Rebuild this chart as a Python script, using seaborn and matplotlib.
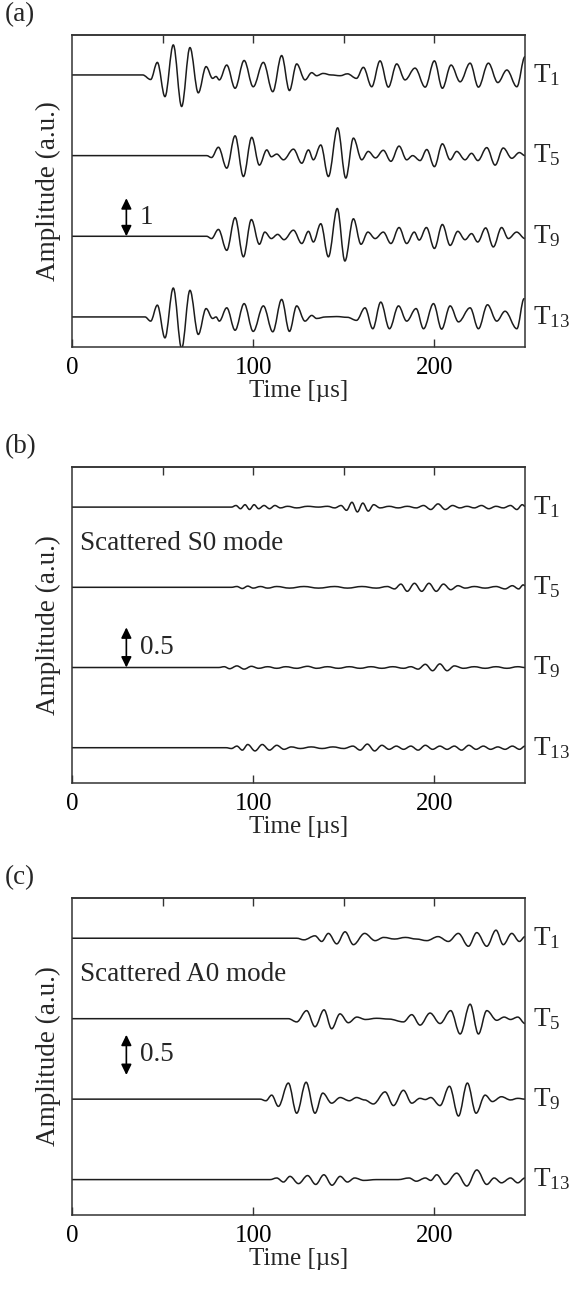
import matplotlib
matplotlib.use('Agg')
import matplotlib.pyplot as plt
from matplotlib.path import Path
from matplotlib.patches import PathPatch
import numpy as np
import pandas as pd
import seaborn as sns

# ---- data: waveform extrema (time in us, amplitude in a.u.) ----
a_t1_time = [0, 39, 43.4, 47.1, 51.3, 55.9, 60.5, 65.1, 69.7, 74, 77.6, 79.5, 81.3, 85.4, 90, 95, 100, 105.6,
             110.8, 115.7, 120, 124, 128.6, 132.3, 135, 138.6, 143, 148, 152, 157, 160.8, 165.4, 170, 174.6,
             179.2, 183.8, 189.3, 194.9, 200, 204.4, 209.2, 214.2, 219.7, 224.3, 229.8, 235, 240, 245.5, 250]
a_t1_amp = [0, 0, -0.12, 0.33, -0.57, 0.79, -0.83, 0.72, -0.47, 0.22, -0.09, -0.04, -0.13, 0.26, -0.35, 0.38,
            -0.31, 0.33, -0.44, 0.51, -0.41, 0.29, -0.13, 0.06, -0.02, 0.04, 0.0, -0.02, 0.03, -0.09, 0.2, -0.31,
            0.37, -0.32, 0.29, -0.13, 0.18, -0.32, 0.37, -0.35, 0.26, -0.18, 0.31, -0.32, 0.31, -0.2, 0.13,
            -0.31, 0.48]

a_t5_time = [0, 74.3, 77, 80.8, 85.4, 90, 94.6, 99.2, 103.4, 107.5, 110, 113, 116.7, 122.2, 126.8, 130.5,
             133.2, 137.3, 141.5, 146.6, 151.1, 155.3, 159.9, 163.5, 167.5, 171.8, 176, 180.5, 184.7, 188,
             192.1, 195.8, 200, 204.4, 208.7, 212.3, 216.9, 220.5, 224, 228.9, 233.5, 238, 242.7, 246.9, 250]
a_t5_amp = [0, 0, -0.05, 0.22, -0.33, 0.52, -0.55, 0.48, -0.25, 0.15, -0.03, 0.04, -0.11, 0.17, -0.2, 0.15,
            -0.11, 0.28, -0.55, 0.73, -0.59, 0.46, -0.11, 0.11, -0.06, 0.14, -0.15, 0.25, -0.11, 0.0, -0.13,
            0.16, -0.29, 0.31, -0.11, 0.11, -0.11, 0.06, -0.13, 0.21, -0.25, 0.2, -0.07, 0.08, 0.0]

a_t9_time = [0, 74.3, 77, 80.8, 85.4, 90, 94.6, 99, 103.4, 106.4, 110, 113.5, 117, 122.2, 126.8, 130.5,
             133.2, 137.3, 141.5, 146.4, 150.6, 155.3, 159.5, 163.3, 167.3, 171.8, 176, 180.5, 184.7, 188.9,
             191.6, 195.6, 200, 204.4, 208.7, 212.9, 216.9, 220.5, 223.9, 228.3, 232.5, 237.1, 240.8, 245.4, 250]
a_t9_amp = [0, 0, -0.06, 0.18, -0.37, 0.49, -0.54, 0.44, -0.21, 0.11, -0.06, 0.05, -0.09, 0.16, -0.19, 0.13,
            -0.15, 0.33, -0.54, 0.73, -0.65, 0.46, -0.21, 0.11, -0.06, 0.11, -0.19, 0.23, -0.19, 0.11, -0.1,
            0.23, -0.32, 0.31, -0.24, 0.13, -0.09, 0.07, -0.15, 0.22, -0.28, 0.23, -0.06, 0.11, -0.06]

a_t13_time = [0, 40.3, 43.4, 47.1, 51.3, 55.9, 60.5, 65.1, 69.7, 74, 77.6, 79.5, 81.3, 85.4, 90, 95, 100,
              105.6, 110.8, 115.7, 120, 124, 128.6, 132.3, 135, 140, 146, 152, 157, 161.7, 166, 170.4, 175.2,
              180.2, 184.7, 189.9, 194, 199.5, 204, 208.7, 213.3, 219.7, 224.3, 229.3, 234.4, 239, 245.5, 249.5]
a_t13_amp = [0, 0, -0.11, 0.31, -0.55, 0.76, -0.83, 0.70, -0.46, 0.22, -0.04, 0.0, -0.11, 0.24, -0.35, 0.35,
             -0.38, 0.29, -0.39, 0.46, -0.38, 0.29, -0.11, 0.04, -0.04, 0.0, 0.01, -0.01, -0.09, 0.24, -0.31,
             0.39, -0.31, 0.29, -0.11, 0.22, -0.31, 0.35, -0.32, 0.29, -0.13, 0.24, -0.31, 0.32, -0.11, 0.15,
             -0.31, 0.48]

b_t1_time = [0, 88, 90.5, 93, 95.5, 98, 100.5, 103, 106, 109, 112, 115, 119, 124, 130, 136, 141, 145, 148.5,
             151.5, 154.5, 157.5, 160.5, 163.5, 166.5, 170, 175, 180, 185, 190, 194, 198, 202, 206, 210, 214,
             218, 222, 226, 230, 234, 238, 242, 245.5, 248.5, 250]
b_t1_amp = [0, 0, 0.02, -0.02, 0.03, -0.03, 0.03, -0.02, 0.02, -0.02, 0.02, -0.01, 0.01, -0.01, 0.01, 0.0,
            0.01, -0.01, 0.02, -0.04, 0.06, -0.06, 0.05, -0.05, 0.03, -0.01, 0.01, -0.01, 0.01, -0.01, 0.02,
            -0.03, 0.04, -0.03, 0.02, -0.01, 0.01, -0.01, 0.02, -0.02, 0.01, -0.01, 0.02, -0.03, 0.03, 0.01]

b_t5_time = [0, 88, 91, 94, 97, 100, 104, 108, 113, 120, 128, 136, 145, 152, 160, 168, 174, 178, 181.5, 185,
             189, 193, 197, 201, 205, 209, 213, 217, 222, 228, 234, 239, 243, 246.5, 249, 250]
b_t5_amp = [0, 0, 0.01, -0.015, 0.015, -0.01, 0.01, -0.01, 0.01, -0.01, 0.01, -0.01, 0.01, -0.01, 0.01,
            -0.01, 0.01, -0.02, 0.04, -0.05, 0.05, -0.05, 0.05, -0.05, 0.04, -0.03, 0.02, -0.01, 0.01, -0.01,
            0.01, -0.02, 0.02, -0.02, 0.03, 0.02]

b_t9_time = [0, 81, 84, 87, 91, 95, 99, 103, 108, 113, 118, 124, 130, 135, 141, 147, 153, 159, 165, 171, 177,
             183, 187, 191, 195, 199, 203, 207, 211, 216, 222, 228, 234, 240, 246, 250]
b_t9_amp = [0, 0, 0.01, -0.015, 0.02, -0.02, 0.015, -0.01, 0.01, -0.01, 0.01, -0.01, 0.015, -0.01, 0.01,
            -0.01, 0.01, -0.01, 0.01, -0.01, 0.01, -0.01, 0.01, -0.02, 0.04, -0.04, 0.045, -0.04, 0.02, -0.01,
            0.01, -0.01, 0.01, -0.01, 0.01, 0.0]

b_t13_time = [0, 85, 88, 91, 94, 97, 101, 105, 109, 113, 117, 121, 126, 132, 138, 144, 150, 155, 159, 163, 167,
              171, 175, 179, 183, 187, 191, 195, 199, 203, 207, 211, 215, 219, 223, 227, 231, 235, 239, 243,
              247, 250]
b_t13_amp = [0, 0, -0.01, 0.02, -0.03, 0.04, -0.04, 0.04, -0.03, 0.03, -0.02, 0.01, -0.01, 0.01, -0.01, 0.01,
             -0.01, 0.02, -0.03, 0.045, -0.04, 0.03, -0.02, 0.02, -0.02, 0.02, -0.03, 0.03, -0.02, 0.02, -0.02,
             0.02, -0.03, 0.03, -0.02, 0.02, -0.02, 0.01, -0.02, 0.02, -0.02, 0.02]

c_t1_time = [0, 124, 128, 134.1, 137.8, 141.5, 146.1, 150.7, 155.3, 161.5, 167.3, 172, 178, 184, 190, 195.8,
             202, 207.7, 213.2, 218.8, 223.4, 228.9, 234, 238, 242.7, 246.9, 250]
c_t1_amp = [0, 0, -0.02, 0.03, -0.04, 0.06, -0.07, 0.08, -0.08, 0.06, -0.03, 0.01, -0.01, 0.01, -0.01, -0.03,
            0.02, -0.04, 0.06, -0.1, 0.07, -0.1, 0.1, -0.08, 0.06, -0.04, 0.02]

c_t5_time = [0, 119.4, 124, 129.5, 134.1, 139.1, 143.3, 147.9, 152.5, 157.2, 162, 168, 175, 182.9, 187.5,
             192.1, 197.6, 203.1, 209, 214.2, 219.7, 224.3, 228.9, 234.4, 238.5, 242, 246, 250]
c_t5_amp = [0, 0, -0.04, 0.1, -0.1, 0.11, -0.125, 0.06, -0.05, 0.02, -0.01, 0.005, -0.005, -0.04, 0.05, -0.08,
            0.07, -0.06, 0.1, -0.19, 0.18, -0.19, 0.1, -0.02, 0.02, -0.01, 0.02, -0.06]

c_t9_time = [0, 103.8, 107, 110.2, 113.9, 119.4, 124, 129.2, 134.1, 138.4, 143.3, 148, 153, 157, 161.5, 166.3,
             172.8, 177.4, 182.9, 187.5, 192, 195, 198, 203.1, 208.3, 213.3, 218.2, 223, 228, 232, 237, 242,
             246, 250]
c_t9_amp = [0, 0, -0.02, 0.05, -0.09, 0.2, -0.175, 0.21, -0.175, 0.075, -0.05, 0.02, -0.02, 0.02, -0.01, -0.06,
            0.09, -0.08, 0.11, -0.05, 0.01, -0.005, 0.02, -0.08, 0.16, -0.21, 0.2, -0.175, 0.05, -0.03, 0.03,
            -0.01, 0.01, 0.0]

c_t13_time = [0, 109.3, 113, 116.7, 120.3, 125, 130, 134.5, 139, 143.5, 148, 152, 156, 161, 168, 180, 186, 190,
              195, 198, 201.3, 205.9, 212.3, 217.9, 223.4, 228.9, 233, 237, 242, 246, 250]
c_t13_amp = [0, 0, 0.02, -0.03, 0.04, -0.05, 0.05, -0.06, 0.06, -0.07, 0.04, -0.03, 0.02, -0.01, 0.0, 0.0,
             0.02, -0.02, 0.02, -0.01, 0.06, -0.06, 0.08, -0.08, 0.12, -0.06, 0.02, -0.04, 0.02, -0.04, 0.02]

trace_names = ['T$_{1}$', 'T$_{5}$', 'T$_{9}$', 'T$_{13}$']
panel_tags = ['(a)', '(b)', '(c)']
panel_notes = [None, 'Scattered S0 mode', 'Scattered A0 mode']
scale_labels = ['1', '0.5', '0.5']

LINE_COLOR = '#1c1c1c'


def make_frame(series, offsets):
    rows = []
    for name, (t, a), off in zip(trace_names, series, offsets):
        rows.append(pd.DataFrame({'time': t, 'amp': np.array(a) + off, 'trace': name}))
    return pd.concat(rows, ignore_index=True)


def smooth_lines(ax, k=0.36):
    # redraw each polyline as cubic Bezier pieces with flat tangents at the read extrema
    for line in list(ax.lines):
        x, y = line.get_data()
        x, y = np.asarray(x, float), np.asarray(y, float)
        verts, codes = [(x[0], y[0])], [Path.MOVETO]
        for i in range(len(x) - 1):
            dx = x[i + 1] - x[i]
            verts += [(x[i] + k * dx, y[i]), (x[i + 1] - k * dx, y[i + 1]), (x[i + 1], y[i + 1])]
            codes += [Path.CURVE4] * 3
        ax.add_patch(PathPatch(Path(verts, codes), fill=False, ec=line.get_color(),
                               lw=line.get_linewidth(), capstyle='round', joinstyle='round'))
        line.remove()


sns.set_style('ticks')
plt.rcParams['font.family'] = ['Liberation Serif', 'DejaVu Serif']
plt.rcParams['mathtext.fontset'] = 'custom'
plt.rcParams['mathtext.rm'] = 'Liberation Serif'
plt.rcParams['mathtext.it'] = 'Liberation Serif'
plt.rcParams['mathtext.default'] = 'rm'

W, H = 575, 1289
fig = plt.figure(figsize=(W / 100, H / 100), dpi=100)

# pixel boxes of the three axes (top, bottom)
boxes = [(35, 347), (467, 783), (898, 1215)]
left_px, right_px = 72, 525

panels = [
    ([(a_t1_time, a_t1_amp), (a_t5_time, a_t5_amp), (a_t9_time, a_t9_amp), (a_t13_time, a_t13_amp)],
     [6.36, 4.24, 2.12, 0.0], (-0.79, 7.41), 1.0, 2.12),
    ([(b_t1_time, b_t1_amp), (b_t5_time, b_t5_amp), (b_t9_time, b_t9_amp), (b_t13_time, b_t13_amp)],
     [3.0, 2.0, 1.0, 0.0], (-0.44, 3.5), 0.5, 1.0),
    ([(c_t1_time, c_t1_amp), (c_t5_time, c_t5_amp), (c_t9_time, c_t9_amp), (c_t13_time, c_t13_amp)],
     [3.0, 2.0, 1.0, 0.0], (-0.44, 3.5), 0.5, 1.3),
]

fs = 18
fs_big = 19.5
for i, ((series, offsets, ylim, bar, bar_y0), (top, bot)) in enumerate(zip(panels, boxes)):
    ax = fig.add_axes([left_px / W, 1 - bot / H, (right_px - left_px) / W, (bot - top) / H])
    df = make_frame(series, offsets)
    sns.lineplot(data=df, x='time', y='amp', units='trace', estimator=None, sort=False,
                 color=LINE_COLOR, lw=1.1, ax=ax, legend=False)
    smooth_lines(ax)
    ax.set_xlim(0, 250)
    ax.set_ylim(*ylim)
    ax.set_yticks([])
    ax.set_xticks([0, 100, 200])
    ax.tick_params(axis='x', direction='in', length=6, width=1.0, labelsize=fs, pad=7, colors='#333333',
                   labelcolor='black')
    top_ax = ax.secondary_xaxis('top')
    top_ax.set_xticks([50, 100, 150, 200])
    top_ax.tick_params(direction='in', length=6, width=1.0, labeltop=False, colors='#333333')
    for s in list(ax.spines.values()) + list(top_ax.spines.values()):
        s.set_linewidth(1.1)
        s.set_color('#333333')
    ax.set_xlabel('Time [µs]', fontsize=fs, labelpad=1)
    ax.set_ylabel('Amplitude (a.u.)', fontsize=fs_big, labelpad=8)

    for name, off in zip(trace_names, offsets):
        ax.text(1.017, off, name, transform=ax.get_yaxis_transform(), fontsize=fs_big, va='center', ha='left')

    ax.annotate('', xy=(30, bar_y0 + bar), xytext=(30, bar_y0),
                arrowprops=dict(arrowstyle='<|-|>,head_length=0.45,head_width=0.22', color='black',
                                lw=1.2, shrinkA=0, shrinkB=0, mutation_scale=14))
    ax.text(37.5, bar_y0 + bar / 2, scale_labels[i], fontsize=fs_big, va='center', ha='left')

    if panel_notes[i]:
        ax.text(4.2, 2.55, panel_notes[i], fontsize=fs_big, va='center', ha='left')

    fig.text(5 / W, 1 - (top - 20) / H, panel_tags[i], fontsize=fs_big, va='center', ha='left')

fig.savefig('out.png', dpi=100)
